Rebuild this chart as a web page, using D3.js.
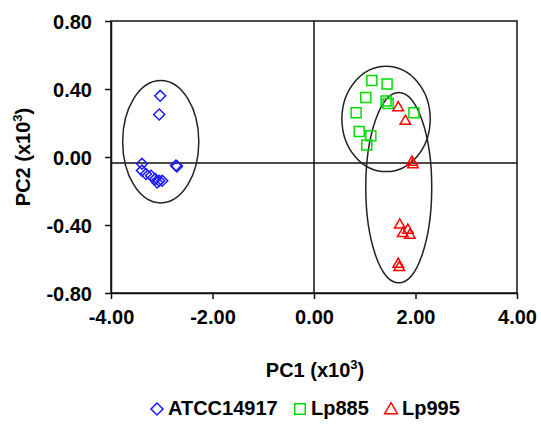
<!DOCTYPE html>
<html><head><meta charset="utf-8">
<script src="https://cdn.jsdelivr.net/npm/d3@7"></script>
<style>body{margin:0;background:#fff}text{font-family:"Liberation Sans",Arial,sans-serif;font-weight:bold;fill:#000}</style>
</head><body><svg id="c" width="541" height="426"></svg>
<script>
const seriesNames = ["ATCC14917","Lp885","Lp995"];
const seriesColors = ["#1a1aff","#00dd00","#ff0000"];
const atccX = [-3.03,-3.05,-3.39,-3.39,-3.31,-3.21,-3.13,-3.05,-2.99,-3.09,-2.72,-2.70];
const atccY = [0.36,0.25,-0.04,-0.08,-0.10,-0.11,-0.13,-0.14,-0.14,-0.15,-0.05,-0.055];
const lp885X = [1.14,1.44,1.02,1.42,1.46,0.83,1.97,0.89,1.12,1.04];
const lp885Y = [0.45,0.43,0.35,0.33,0.315,0.26,0.26,0.15,0.125,0.07];
const lp995X = [1.66,1.80,1.93,1.95,1.69,1.85,1.75,1.89,1.66,1.68];
const lp995Y = [0.29,0.21,-0.03,-0.045,-0.40,-0.43,-0.45,-0.46,-0.63,-0.65];
const xTicks = [-4,-2,0,2,4];
const xTickLabels = ["-4.00","-2.00","0.00","2.00","4.00"];
const yTicks = [0.8,0.4,0,-0.4,-0.8];
const yTickLabels = ["0.80","0.40","0.00","-0.40","-0.80"];
// cluster ellipses: [cx, cy, rx, ry] in data units
const ellipses = [[-3.02,0.09,0.75,0.36],[1.42,0.224,0.87,0.31],[1.67,-0.18,0.65,0.56]];
const refX = 0, refY = -0.035;

const svg = d3.select("#c");
const x = d3.scaleLinear().domain([-4,4]).range([111,517]);
const y = d3.scaleLinear().domain([-0.8,0.8]).range([293,21]);

// frame
svg.append("rect").attr("x",x(-4)).attr("y",y(0.8)).attr("width",x(4)-x(-4)).attr("height",y(-0.8)-y(0.8))
  .attr("fill","none").attr("stroke","#111").attr("stroke-width",1.5);
// reference lines
svg.append("line").attr("x1",x(-4)).attr("x2",x(4)).attr("y1",y(refY)).attr("y2",y(refY)).attr("stroke","#111").attr("stroke-width",1.5);
svg.append("line").attr("x1",x(refX)).attr("x2",x(refX)).attr("y1",y(0.8)).attr("y2",y(-0.8)).attr("stroke","#111").attr("stroke-width",1.5);

// axes
const xa = svg.append("g").attr("transform",`translate(0,${y(-0.8)})`)
  .call(d3.axisBottom(x).tickValues(xTicks).tickSize(6).tickSizeOuter(0).tickFormat((d,i)=>xTickLabels[i]));
const ya = svg.append("g").attr("transform",`translate(${x(-4)},0)`)
  .call(d3.axisLeft(y).tickValues(yTicks).tickSize(6).tickSizeOuter(0).tickFormat((d,i)=>yTickLabels[i]));
[xa,ya].forEach(g=>{g.select(".domain").attr("stroke","#111").attr("stroke-width",1.5);
  g.selectAll(".tick line").attr("stroke","#111").attr("stroke-width",1.5);
  g.selectAll("text").style("font-size","20px").style("font-family","Liberation Sans, Arial, sans-serif").style("font-weight","bold").attr("fill","#000");});
xa.selectAll("text").attr("y",17).attr("dy","0.71em");
ya.selectAll("text").attr("x",-19).attr("dy","0.36em");

// ellipses
svg.selectAll("ellipse.cl").data(ellipses).join("ellipse").attr("class","cl")
  .attr("cx",d=>x(d[0])).attr("cy",d=>y(d[1]))
  .attr("rx",d=>x(d[0]+d[2])-x(d[0])).attr("ry",d=>y(d[1]-d[3])-y(d[1]))
  .attr("fill","none").attr("stroke","#222").attr("stroke-width",1.5);

const sym = [d3.symbol().type(d3.symbolSquare).size(60), d3.symbol().type(d3.symbolSquare).size(100), d3.symbol().type(d3.symbolTriangle).size(48)];
const rot = [45,0,0];
const sets = [[atccX,atccY],[lp885X,lp885Y],[lp995X,lp995Y]];
sets.forEach((s,k)=>{
  const pts = s[0].map((v,i)=>[v,s[1][i]]);
  svg.append("g").selectAll("path").data(pts).join("path")
    .attr("d",sym[k]())
    .attr("transform",d=>`translate(${x(d[0])},${y(d[1])}) rotate(${rot[k]})`)
    .attr("fill","none").attr("stroke",seriesColors[k]).attr("stroke-width",1.5);
});

// axis titles
const xt = svg.append("text").attr("x",315).attr("y",377).attr("text-anchor","middle").style("font-size","20px");
xt.append("tspan").text("PC1 (x10");
xt.append("tspan").text("3").attr("dy",-8).style("font-size","13px");
xt.append("tspan").text(")").attr("dy",8);
const yt = svg.append("text").attr("transform","translate(30,157) rotate(-90)").attr("text-anchor","middle").style("font-size","20px");
yt.append("tspan").text("PC2 (x10");
yt.append("tspan").text("3").attr("dy",-8).style("font-size","13px");
yt.append("tspan").text(")").attr("dy",8);

// legend
const legX = [157,300,391];
const legG = svg.append("g");
seriesNames.forEach((n,k)=>{
  legG.append("path").attr("d",d3.symbol().type(k===2?d3.symbolTriangle:d3.symbolSquare).size(k===0?72:(k===1?110:70))())
    .attr("transform",`translate(${legX[k]},${k===2?410:409}) rotate(${rot[k]})`)
    .attr("fill","none").attr("stroke",seriesColors[k]).attr("stroke-width",1.5);
  legG.append("text").attr("x",legX[k]+11).attr("y",415).style("font-size","20px").text(n);
});
</script></body></html>
